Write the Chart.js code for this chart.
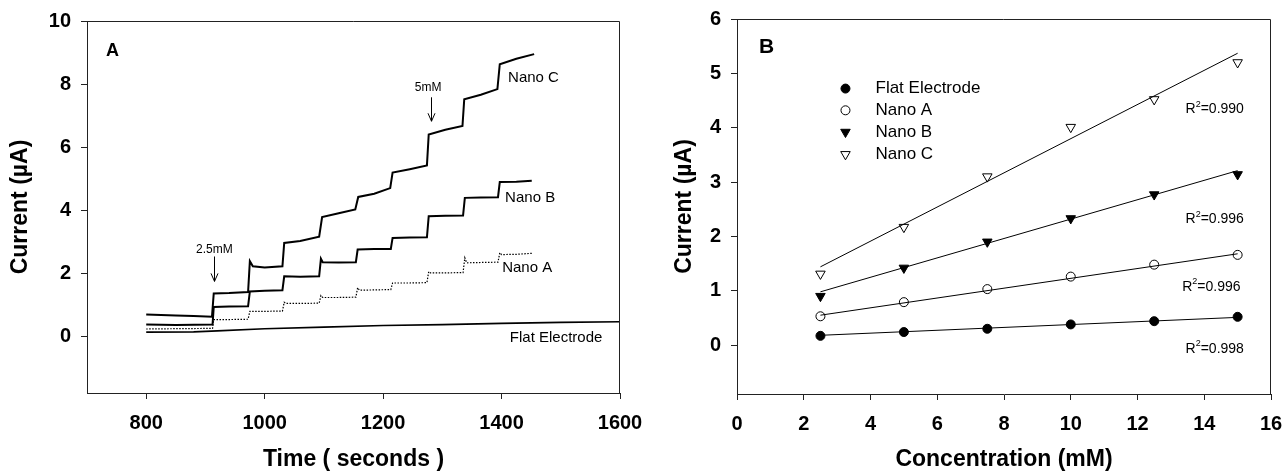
<!DOCTYPE html>
<html><head><meta charset="utf-8">
<script src="https://cdn.jsdelivr.net/npm/chart.js@4.4.0/dist/chart.umd.min.js"></script>
<style>
html,body{margin:0;padding:0;background:#fff;}
#wrap{position:relative;width:1284px;height:471px;overflow:hidden;}
canvas{position:absolute;top:0;}
#cA{left:0;} #cB{left:640px;}
</style></head><body>
<div id="wrap"><canvas id="cA" width="700" height="471"></canvas><canvas id="cB" width="644" height="471"></canvas></div>
<script>
// ---------- Panel A : amperometric traces ----------
const timeTicks = [800, 1000, 1200, 1400, 1600];
const currentTicksA = [0, 2, 4, 6, 8, 10];

const nanoC_t = [800, 850, 880, 911, 914, 940, 972, 975, 980, 1000, 1030, 1033, 1060, 1092, 1097, 1125, 1153, 1158, 1185, 1212, 1216, 1245, 1274, 1277, 1305, 1334, 1337, 1365, 1393, 1397, 1425, 1455];
const nanoC_i = [0.69, 0.66, 0.64, 0.62, 1.36, 1.37, 1.40, 2.38, 2.22, 2.18, 2.22, 2.96, 3.02, 3.16, 3.78, 3.90, 4.02, 4.42, 4.52, 4.70, 5.19, 5.30, 5.42, 6.40, 6.55, 6.67, 7.52, 7.66, 7.84, 8.63, 8.80, 8.95];

const nanoB_t = [800, 850, 912, 914, 940, 972, 975, 1000, 1030, 1033, 1060, 1092, 1095, 1098, 1125, 1154, 1157, 1185, 1213, 1216, 1245, 1274, 1277, 1305, 1335, 1338, 1365, 1394, 1397, 1425, 1451];
const nanoB_i = [0.37, 0.36, 0.37, 0.93, 0.94, 0.95, 1.42, 1.44, 1.46, 1.90, 1.89, 1.90, 2.46, 2.35, 2.34, 2.35, 2.75, 2.77, 2.77, 3.12, 3.13, 3.14, 3.81, 3.82, 3.83, 4.39, 4.40, 4.41, 4.89, 4.90, 4.93];

const nanoA_t = [800, 850, 912, 914, 940, 972, 975, 1000, 1030, 1033, 1036, 1060, 1092, 1095, 1098, 1125, 1154, 1157, 1160, 1185, 1213, 1216, 1245, 1274, 1277, 1280, 1305, 1335, 1338, 1341, 1365, 1394, 1397, 1400, 1425, 1451];
const nanoA_i = [0.23, 0.24, 0.25, 0.53, 0.53, 0.54, 0.79, 0.79, 0.80, 1.08, 1.04, 1.04, 1.05, 1.29, 1.23, 1.23, 1.24, 1.54, 1.46, 1.47, 1.48, 1.69, 1.69, 1.70, 2.05, 2.01, 2.01, 2.02, 2.49, 2.33, 2.34, 2.35, 2.65, 2.59, 2.60, 2.63];

const flat_t = [800, 880, 920, 1000, 1100, 1200, 1300, 1400, 1500, 1600];
const flat_i = [0.13, 0.14, 0.17, 0.24, 0.29, 0.34, 0.37, 0.41, 0.44, 0.46];

// ---------- Panel B : calibration ----------
const concTicks = [0, 2, 4, 6, 8, 10, 12, 14, 16];
const currentTicksB = [0, 1, 2, 3, 4, 5, 6];
const conc = [2.5, 5, 7.5, 10, 12.5, 15];
const flatB = [0.17, 0.24, 0.30, 0.38, 0.44, 0.52];
const nanoAB = [0.53, 0.79, 1.03, 1.26, 1.48, 1.66];
const nanoBB = [0.90, 1.42, 1.90, 2.33, 2.77, 3.14];
const nanoCB = [1.31, 2.17, 3.10, 4.01, 4.52, 5.20];
const fitConc = [2.5, 15];
const fitFlat = [0.18, 0.51];
const fitA = [0.55, 1.68];
const fitB = [0.98, 3.21];
const fitC = [1.44, 5.37];
const seriesNames = ['Flat Electrode', 'Nano A', 'Nano B', 'Nano C'];
const r2Labels = ['0.990', '0.996', '0.996', '0.998'];

function pts(xs, ys) { return xs.map((x, k) => ({x: x, y: ys[k]})); }

Chart.defaults.font.family = "'Liberation Sans', Arial, Helvetica, sans-serif";
Chart.defaults.color = '#000';

const AX = '#222';

function axisX(min, max, step, keep, height, title) {
  return {
    type: 'linear', min: min, max: max,
    ticks: {stepSize: step, padding: 12, font: {size: 20, weight: 'bold'}, color: '#000', maxRotation: 0, includeBounds: false,
      autoSkip: false, callback: v => String(v)},
    afterBuildTicks: s => { s.ticks = s.ticks.filter(t => keep.some(v => Math.abs(v - t.value) < 1e-6)); },
    grid: {display: true, drawOnChartArea: false, drawTicks: true, tickLength: 6, color: AX, lineWidth: 1},
    border: {display: true, color: AX, width: 1},
    title: {display: true, text: title, font: {size: 23, weight: 'bold', lineHeight: 1}, color: '#000', padding: {top: 0, bottom: 0}},
    afterFit: s => { s.height = height; s.paddingLeft = 0; s.paddingRight = 0; }
  };
}
function axisY(min, max, step, keep, width, titlePad) {
  return {
    type: 'linear', min: min, max: max,
    ticks: {stepSize: step, padding: 10, font: {size: 20, weight: 'bold'}, color: '#000', includeBounds: false,
      autoSkip: false, callback: v => String(v)},
    afterBuildTicks: s => { s.ticks = s.ticks.filter(t => keep.some(v => Math.abs(v - t.value) < 1e-6)); },
    grid: {display: true, drawOnChartArea: false, drawTicks: true, tickLength: 6, color: AX, lineWidth: 1},
    border: {display: true, color: AX, width: 1},
    title: {display: true, text: 'Current (\u00b5A)', font: {size: 23, weight: 'bold', lineHeight: 1}, color: '#000', padding: {top: titlePad, bottom: 0}},
    afterFit: s => { s.width = width; s.paddingTop = 0; s.paddingBottom = 0; }
  };
}

const framePlugin = {
  id: 'frame',
  afterDraw(chart) {
    const a = chart.chartArea, ctx = chart.ctx;
    ctx.save();
    ctx.strokeStyle = AX; ctx.lineWidth = 1;
    const t = Math.round(a.top) + 0.5, r = Math.round(a.right) - 0.5;
    ctx.beginPath();
    ctx.moveTo(Math.round(a.left), t); ctx.lineTo(r, t); ctx.lineTo(r, Math.round(a.bottom));
    ctx.stroke();
    ctx.restore();
  }
};

function drawArrow(ctx, x, y1, y2) {
  ctx.beginPath();
  ctx.moveTo(x, y1); ctx.lineTo(x, y2);
  ctx.moveTo(x - 3.5, y2 - 8); ctx.lineTo(x, y2); ctx.lineTo(x + 3.5, y2 - 8);
  ctx.stroke();
}

// annotation contents for panel A
const annA = {
  panel: {text: 'A', px: 106, py: 51},
  arrows: [
    {t: 915, top: 2.53, tip: 1.74, label: '2.5mM', lt: 915, lv: 2.76},
    {t: 1281, top: 7.58, tip: 6.82, label: '5mM', lt: 1276, lv: 7.9}
  ],
  names: [
    {text: 'Nano C', t: 1411, v: 8.21},
    {text: 'Nano B', t: 1406, v: 4.40},
    {text: 'Nano A', t: 1401, v: 2.18},
    {text: 'Flat Electrode', t: 1414, v: -0.04}
  ]
};

const annAPlugin = {
  id: 'annA',
  afterDatasetsDraw(chart) {
    const ctx = chart.ctx, xs = chart.scales.x, ys = chart.scales.y;
    ctx.save();
    ctx.fillStyle = '#000'; ctx.strokeStyle = '#000'; ctx.lineWidth = 1;
    ctx.font = "bold 18px 'Liberation Sans', Arial, sans-serif";
    ctx.textBaseline = 'middle'; ctx.textAlign = 'left';
    ctx.fillText(annA.panel.text, annA.panel.px, annA.panel.py);
    ctx.font = "12px 'Liberation Sans', Arial, sans-serif";
    ctx.textAlign = 'center';
    annA.arrows.forEach(a => {
      const x = Math.round(xs.getPixelForValue(a.t)) + 0.5;
      drawArrow(ctx, x, ys.getPixelForValue(a.top), ys.getPixelForValue(a.tip));
      ctx.fillText(a.label, xs.getPixelForValue(a.lt), ys.getPixelForValue(a.lv));
    });
    ctx.font = "15px 'Liberation Sans', Arial, sans-serif";
    ctx.textAlign = 'left';
    annA.names.forEach(n => ctx.fillText(n.text, xs.getPixelForValue(n.t), ys.getPixelForValue(n.v)));
    ctx.restore();
  }
};

const chartA = new Chart(document.getElementById('cA'), {
  type: 'line',
  data: {
    datasets: [
      {label: 'Flat Electrode', data: pts(flat_t, flat_i), borderColor: '#000', borderWidth: 1.6, pointRadius: 0, tension: 0},
      {label: 'Nano A', data: pts(nanoA_t, nanoA_i), borderColor: '#000', borderWidth: 1.2, borderDash: [1.5, 1.5], pointRadius: 0, tension: 0},
      {label: 'Nano B', data: pts(nanoB_t, nanoB_i), borderColor: '#000', borderWidth: 2, pointRadius: 0, tension: 0},
      {label: 'Nano C', data: pts(nanoC_t, nanoC_i), borderColor: '#000', borderWidth: 2, pointRadius: 0, tension: 0}
    ]
  },
  options: {
    responsive: false, animation: false, devicePixelRatio: 1,
    layout: {padding: {left: 0, right: 80, top: 21, bottom: 0}},
    plugins: {legend: {display: false}, tooltip: {enabled: false}},
    scales: {
      x: axisX(700, 1600, 200, timeTicks, 78, 'Time ( seconds )'),
      y: axisY(-1.8, 10, 2, currentTicksA, 87, 9)
    }
  },
  plugins: [framePlugin, annAPlugin]
});

// ---------- Panel B ----------
const styleB = [
  {pointStyle: 'circle', rotation: 0, bg: '#000', r: 4.5},
  {pointStyle: 'circle', rotation: 0, bg: '#fff', r: 4.5},
  {pointStyle: 'triangle', rotation: 180, bg: '#000', r: 5.5},
  {pointStyle: 'triangle', rotation: 180, bg: '#fff', r: 5.5}
];
const valsB = [flatB, nanoAB, nanoBB, nanoCB];
const fitsB = [fitFlat, fitA, fitB, fitC];

const annB = {
  panel: {text: 'B', px: 759, py: 47},
  legend: {mx: 3.25, tx: 4.15, rows: [4.72, 4.32, 3.92, 3.51]},
  r2: [{x: 13.44, v: 4.34}, {x: 13.44, v: 2.31}, {x: 13.34, v: 1.07}, {x: 13.44, v: -0.07}]
};

const annBPlugin = {
  id: 'annB',
  afterDatasetsDraw(chart) {
    const ctx = chart.ctx, xs = chart.scales.x, ys = chart.scales.y;
    ctx.save();
    ctx.fillStyle = '#000'; ctx.textBaseline = 'middle'; ctx.textAlign = 'left';
    ctx.font = "bold 21px 'Liberation Sans', Arial, sans-serif";
    ctx.fillText(annB.panel.text, annB.panel.px - 640, annB.panel.py);
    // legend
    const mx = xs.getPixelForValue(annB.legend.mx), tx = xs.getPixelForValue(annB.legend.tx);
    ctx.font = "17px 'Liberation Sans', Arial, sans-serif";
    annB.legend.rows.forEach((v, k) => {
      const y = ys.getPixelForValue(v);
      const st = styleB[k];
      ctx.fillStyle = st.bg; ctx.strokeStyle = '#000'; ctx.lineWidth = 1;
      Chart.helpers.drawPoint(ctx, {pointStyle: st.pointStyle, rotation: st.rotation, radius: st.r, borderWidth: 1}, mx, y);
      ctx.fillStyle = '#000';
      ctx.fillText(seriesNames[k], tx, y);
    });
    // R2 labels
    annB.r2.forEach((p, k) => {
      let x = xs.getPixelForValue(p.x); const y = ys.getPixelForValue(p.v);
      ctx.font = "14px 'Liberation Sans', Arial, sans-serif";
      ctx.fillText('R', x, y); x += ctx.measureText('R').width;
      ctx.font = "9px 'Liberation Sans', Arial, sans-serif";
      ctx.fillText('2', x, y - 5); x += ctx.measureText('2').width;
      ctx.font = "14px 'Liberation Sans', Arial, sans-serif";
      ctx.fillText('=' + r2Labels[k], x, y);
    });
    ctx.restore();
  }
};

const dsB = [];
fitsB.forEach((f, k) => dsB.push({type: 'line', label: 'fit ' + seriesNames[k], data: pts(fitConc, f), borderColor: '#000', borderWidth: 1, pointRadius: 0, tension: 0}));
valsB.forEach((v, k) => dsB.push({type: 'scatter', label: seriesNames[k], data: pts(conc, v), showLine: false,
  pointStyle: styleB[k].pointStyle, rotation: styleB[k].rotation, pointRadius: styleB[k].r,
  backgroundColor: styleB[k].bg, borderColor: '#000', borderWidth: 1}));

const chartB = new Chart(document.getElementById('cB'), {
  type: 'scatter',
  data: {datasets: dsB},
  options: {
    responsive: false, animation: false, devicePixelRatio: 1,
    layout: {padding: {left: 0, right: 13, top: 19, bottom: 0}},
    plugins: {legend: {display: false}, tooltip: {enabled: false}},
    scales: {
      x: axisX(0, 16, 2, concTicks, 77, 'Concentration (mM)'),
      y: axisY(-0.9, 6, 1, currentTicksB, 97, 33)
    }
  },
  plugins: [framePlugin, annBPlugin]
});
</script>
</body></html>
